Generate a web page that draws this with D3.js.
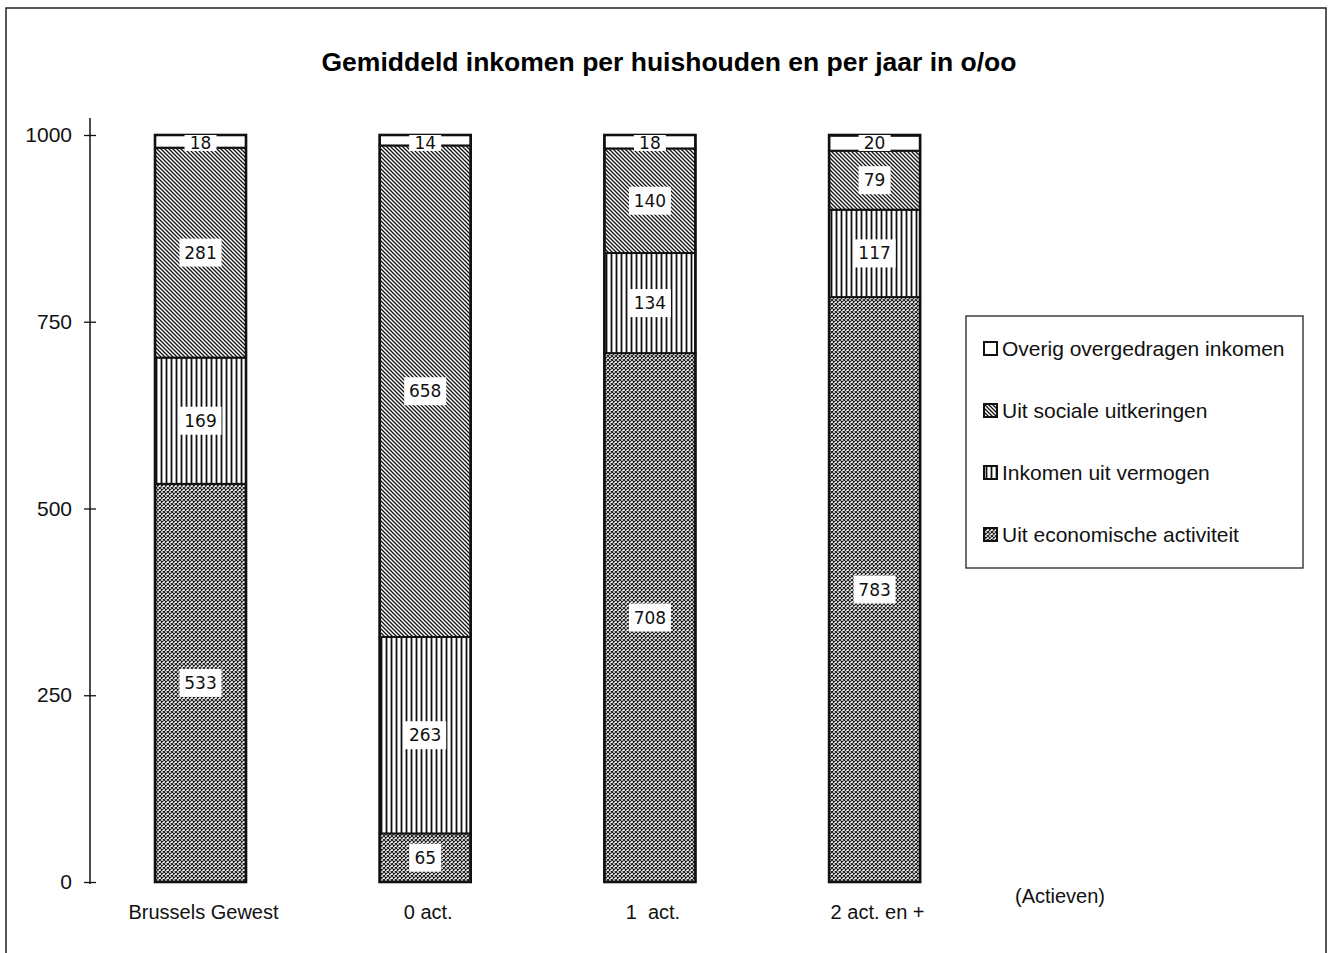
<!DOCTYPE html>
<html><head><meta charset="utf-8">
<script src="https://cdn.jsdelivr.net/npm/d3@7"></script>
<style>body{margin:0;background:#fff}svg{display:block}</style>
</head><body>
<script>
const categories = ["Brussels Gewest", "0 act.", "1  act.", "2 act. en +"];
const seriesNames = ["Uit economische activiteit", "Inkomen uit vermogen", "Uit sociale uitkeringen", "Overig overgedragen inkomen"];
const economisch = [533, 65, 708, 783];
const vermogen = [169, 263, 134, 117];
const sociaal = [281, 658, 140, 79];
const overig = [18, 14, 18, 20];
const yTicks = [0, 250, 500, 750, 1000];

const W = 1334, H = 953;
const FONT = "Liberation Sans, Arial, sans-serif";
const svg = d3.select("body").append("svg").attr("width", W).attr("height", H);
const defs = svg.append("defs");

// patterns
const pDiag = defs.append("pattern").attr("id", "pDiag").attr("patternUnits", "userSpaceOnUse").attr("width", 4).attr("height", 4);
pDiag.append("rect").attr("width", 4).attr("height", 4).attr("fill", "#fff");
pDiag.append("path").attr("d", "M-1,-1 L5,5 M-1,3 L1,5 M3,-1 L5,1").attr("stroke", "#111").attr("stroke-width", 1.3);

const pVert = defs.append("pattern").attr("id", "pVert").attr("patternUnits", "userSpaceOnUse").attr("width", 5).attr("height", 10);
pVert.append("rect").attr("width", 5).attr("height", 10).attr("fill", "#fff");
pVert.append("path").attr("d", "M1.5,0 L1.5,10").attr("stroke", "#111").attr("stroke-width", 1.8);

const pCross = defs.append("pattern").attr("id", "pCross").attr("patternUnits", "userSpaceOnUse").attr("width", 4).attr("height", 4);
pCross.append("rect").attr("width", 4).attr("height", 4).attr("fill", "#fff");
pCross.append("path").attr("d", "M0,0 L4,4 M4,0 L0,4").attr("stroke", "#222").attr("stroke-width", 1.2);

const fills = ["url(#pCross)", "url(#pVert)", "url(#pDiag)", "#fff"];

// outer frame
svg.append("path").attr("d", "M6,953 L6,8 L1326,8 L1326,953").attr("fill", "none").attr("stroke", "#222").attr("stroke-width", 1.5);

// title
svg.append("text").attr("x", 669).attr("y", 71).attr("text-anchor", "middle")
  .attr("font-family", FONT).attr("font-weight", "bold").attr("font-size", 26.5)
  .text("Gemiddeld inkomen per huishouden en per jaar in o/oo");

const y = d3.scaleLinear().domain([0, 1000]).range([882, 135]);
const x = d3.scaleBand().domain(categories).range([87.6, 987.5]).paddingInner(0.595).paddingOuter(0.3);

// y axis
const axisX = 90;
svg.append("line").attr("x1", axisX).attr("x2", axisX).attr("y1", 118).attr("y2", 884).attr("stroke", "#111").attr("stroke-width", 1.5);
const yAxis = svg.append("g").attr("transform", `translate(${axisX},0)`)
  .call(d3.axisLeft(y).tickValues(yTicks).tickFormat(d3.format("d")).tickSize(6).tickPadding(12));
yAxis.select(".domain").remove();
yAxis.selectAll(".tick line").attr("x1", -6).attr("x2", 6).attr("stroke", "#111").attr("stroke-width", 1.3);
yAxis.selectAll(".tick text").attr("font-family", FONT).attr("font-size", 21).attr("fill", "#111");

// stacked data
const seriesArrays = [economisch, vermogen, sociaal, overig];
const stackData = categories.map((c, i) => {
  const o = {cat: c};
  seriesNames.forEach((s, j) => o[s] = seriesArrays[j][i]);
  return o;
});
const stacked = d3.stack().keys(seriesNames)(stackData);

const bars = svg.append("g");
stacked.forEach((layer, j) => {
  bars.selectAll(null).data(layer).enter().append("rect")
    .attr("x", d => x(d.data.cat))
    .attr("width", x.bandwidth())
    .attr("y", d => y(Math.min(d[1], 1000)))
    .attr("height", d => y(d[0]) - y(Math.min(d[1], 1000)))
    .attr("fill", fills[j])
    .attr("stroke", "#111").attr("stroke-width", 2);
});
// outer bar outline
bars.selectAll(null).data(categories).enter().append("rect")
  .attr("x", d => x(d)).attr("width", x.bandwidth())
  .attr("y", y(1000)).attr("height", y(0) - y(1000))
  .attr("fill", "none").attr("stroke", "#111").attr("stroke-width", 2.6);

// labels
const lab = svg.append("g");
stacked.forEach((layer, j) => {
  layer.forEach(d => {
    const v = d[1] - d[0];
    const cx = x(d.data.cat) + x.bandwidth() / 2;
    let cy = (y(d[0]) + y(Math.min(d[1], 1000))) / 2;
    const txt = String(v);
    const w = txt.length * 10 + 12;
    const h = j === 3 ? 16 : 28;
    if (j === 3) cy = y(1000) + 8;
    lab.append("rect").attr("x", cx - w / 2).attr("y", cy - h / 2).attr("width", w).attr("height", h).attr("fill", "#fff");
    lab.append("text").attr("x", cx).attr("y", cy + 6).attr("text-anchor", "middle")
      .attr("font-family", "DejaVu Sans, sans-serif").attr("font-size", 17).attr("fill", "#111").text(txt);
  });
});

// x labels
svg.append("g").selectAll("text").data(categories).enter().append("text")
  .attr("x", d => x(d) + x.bandwidth() / 2 + 3).attr("y", 919).attr("text-anchor", "middle")
  .attr("font-family", FONT).attr("font-size", 20).attr("fill", "#111")
  .style("white-space", "pre")
  .text(d => d);
svg.append("text").attr("x", 1060).attr("y", 903).attr("text-anchor", "middle")
  .attr("font-family", FONT).attr("font-size", 20).attr("fill", "#111").text("(Actieven)");

// legend
const lg = svg.append("g");
lg.append("rect").attr("x", 966).attr("y", 316).attr("width", 337).attr("height", 252).attr("fill", "#fff").attr("stroke", "#222").attr("stroke-width", 1.3);
const legendOrder = seriesNames.slice().reverse();
const legendFills = fills.slice().reverse();
legendOrder.forEach((s, i) => {
  const yy = 349 + i * 62;
  lg.append("rect").attr("x", 984).attr("y", yy - 7).attr("width", 13).attr("height", 13)
    .attr("fill", legendFills[i]).attr("stroke", "#111").attr("stroke-width", 2);
  lg.append("text").attr("x", 1002).attr("y", yy + 7)
    .attr("font-family", FONT).attr("font-size", 21).attr("fill", "#111").text(s);
});
</script>
</body></html>
